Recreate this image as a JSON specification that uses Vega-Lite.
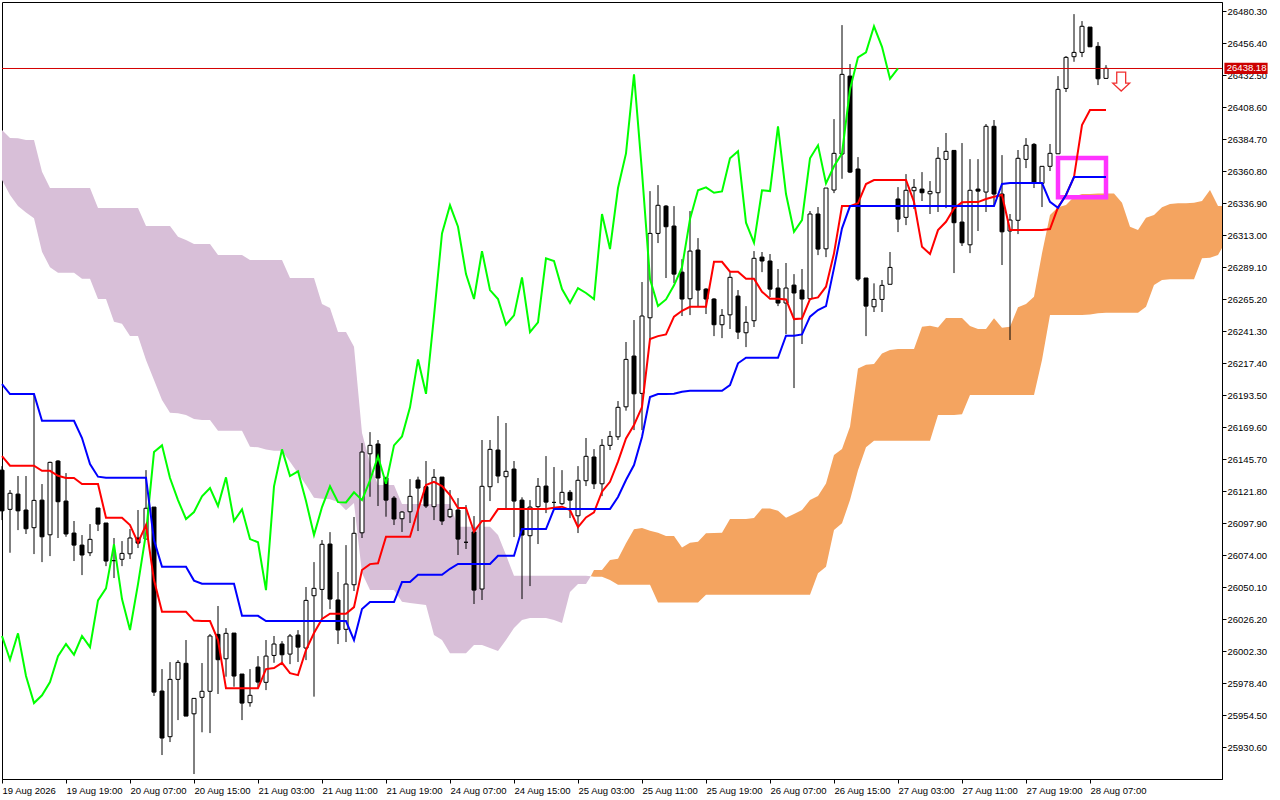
{
"$schema":"https://vega.github.io/schema/vega-lite/v6.json",
"width":1220,"height":777,
"autosize":"none",
"padding":{"left":2,"top":2,"right":58,"bottom":21},
"background":"#ffffff",
"config":{"view":{"stroke":"#000000","strokeWidth":1},"axis":{"grid":false,"domainColor":"#000000","tickColor":"#000000","labelColor":"#000000","labelFont":"Liberation Sans","labelFontSize":9.5,"tickSize":4,"labelOverlap":false,"labelFlush":false,"labelBound":false}},
"datasets":{
"candles":[
{"i":0,"o":26137.6,"h":26140.6,"l":26100.3,"c":26107.2,"tenkan":26148.1,"kijun":26201.9},
{"i":1,"o":26108.3,"h":26122.7,"l":26075.9,"c":26120.3,"tenkan":26140.9,"kijun":26194.4},
{"i":2,"o":26119.7,"h":26133.2,"l":26092.8,"c":26107.2,"tenkan":26140.9,"kijun":26194.4},
{"i":3,"o":26107.8,"h":26133.2,"l":26089.9,"c":26093.8,"tenkan":26140.9,"kijun":26194.4},
{"i":4,"o":26094.6,"h":26194.4,"l":26074.9,"c":26115.0,"tenkan":26140.9,"kijun":26194.4},
{"i":5,"o":26115.2,"h":26127.2,"l":26068.9,"c":26087.8,"tenkan":26137.1,"kijun":26174.5},
{"i":6,"o":26089.3,"h":26143.9,"l":26073.4,"c":26143.4,"tenkan":26137.1,"kijun":26174.5},
{"i":7,"o":26144.4,"h":26145.1,"l":26086.9,"c":26114.0,"tenkan":26133.4,"kijun":26174.5},
{"i":8,"o":26114.5,"h":26135.4,"l":26087.8,"c":26089.9,"tenkan":26131.7,"kijun":26174.5},
{"i":9,"o":26090.6,"h":26099.6,"l":26069.7,"c":26081.6,"tenkan":26131.7,"kijun":26174.5},
{"i":10,"o":26081.6,"h":26089.1,"l":26059.2,"c":26074.2,"tenkan":26127.2,"kijun":26161.6},
{"i":11,"o":26075.9,"h":26097.3,"l":26073.4,"c":26085.9,"tenkan":26127.2,"kijun":26142.1},
{"i":12,"o":26109.3,"h":26109.3,"l":26092.1,"c":26097.3,"tenkan":26127.2,"kijun":26132.7},
{"i":13,"o":26098.1,"h":26098.1,"l":26065.9,"c":26069.7,"tenkan":26102.0,"kijun":26131.9},
{"i":14,"o":26070.0,"h":26086.9,"l":26057.0,"c":26070.0,"tenkan":26102.0,"kijun":26131.9},
{"i":15,"o":26071.0,"h":26084.6,"l":26065.9,"c":26075.4,"tenkan":26102.0,"kijun":26131.9},
{"i":16,"o":26075.1,"h":26093.6,"l":26071.2,"c":26086.9,"tenkan":26096.6,"kijun":26131.9},
{"i":17,"o":26086.9,"h":26107.8,"l":26079.4,"c":26083.1,"tenkan":26083.4,"kijun":26131.9},
{"i":18,"o":26086.1,"h":26137.6,"l":26086.1,"c":26109.1,"tenkan":26096.6,"kijun":26131.9},
{"i":19,"o":26110.0,"h":26110.0,"l":25968.9,"c":25971.8,"tenkan":26055.5,"kijun":26085.4},
{"i":20,"o":25972.6,"h":25989.0,"l":25924.8,"c":25937.5,"tenkan":26031.8,"kijun":26065.4},
{"i":21,"o":25938.5,"h":25994.2,"l":25934.5,"c":25981.3,"tenkan":26031.8,"kijun":26065.4},
{"i":22,"o":25981.3,"h":25995.7,"l":25950.9,"c":25994.0,"tenkan":26031.8,"kijun":26065.4},
{"i":23,"o":25993.3,"h":26010.7,"l":25953.9,"c":25953.9,"tenkan":26031.8,"kijun":26065.4},
{"i":24,"o":25955.6,"h":25967.4,"l":25910.6,"c":25967.1,"tenkan":26025.2,"kijun":26055.1},
{"i":25,"o":25967.9,"h":25993.5,"l":25941.8,"c":25972.4,"tenkan":26024.9,"kijun":26052.7},
{"i":26,"o":25972.4,"h":26015.2,"l":25941.2,"c":26013.7,"tenkan":26024.9,"kijun":26052.7},
{"i":27,"o":26014.9,"h":26036.1,"l":25970.4,"c":25996.0,"tenkan":26010.7,"kijun":26052.7},
{"i":28,"o":25996.7,"h":26019.6,"l":25983.3,"c":26015.7,"tenkan":25974.6,"kijun":26052.7},
{"i":29,"o":26015.9,"h":26015.9,"l":25975.8,"c":25983.8,"tenkan":25974.6,"kijun":26052.7},
{"i":30,"o":25985.3,"h":25985.3,"l":25950.9,"c":25963.6,"tenkan":25974.6,"kijun":26028.8},
{"i":31,"o":25963.9,"h":25989.0,"l":25960.9,"c":25969.4,"tenkan":25974.6,"kijun":26028.8},
{"i":32,"o":25990.5,"h":25998.7,"l":25974.8,"c":25979.3,"tenkan":25974.6,"kijun":26028.8},
{"i":33,"o":25979.1,"h":26010.7,"l":25973.3,"c":25998.7,"tenkan":25989.0,"kijun":26024.9},
{"i":34,"o":25999.2,"h":26013.7,"l":25993.7,"c":26007.7,"tenkan":25989.8,"kijun":26024.9},
{"i":35,"o":26007.7,"h":26009.9,"l":25992.0,"c":25999.7,"tenkan":25993.7,"kijun":26024.9},
{"i":36,"o":26000.2,"h":26015.2,"l":25992.7,"c":26013.7,"tenkan":25986.0,"kijun":26024.9},
{"i":37,"o":26014.4,"h":26018.1,"l":25994.3,"c":26005.4,"tenkan":25984.5,"kijun":26024.9},
{"i":38,"o":26004.7,"h":26050.3,"l":25995.7,"c":26040.3,"tenkan":26003.2,"kijun":26024.9},
{"i":39,"o":26043.8,"h":26068.9,"l":25968.4,"c":26049.3,"tenkan":26015.9,"kijun":26024.9},
{"i":40,"o":26048.5,"h":26085.4,"l":26026.4,"c":26082.2,"tenkan":26026.4,"kijun":26024.9},
{"i":41,"o":26082.4,"h":26091.3,"l":26033.8,"c":26041.3,"tenkan":26030.3,"kijun":26024.9},
{"i":42,"o":26040.6,"h":26061.5,"l":26007.7,"c":26018.2,"tenkan":26030.3,"kijun":26024.9},
{"i":43,"o":26018.7,"h":26081.6,"l":26009.2,"c":26052.5,"tenkan":26030.3,"kijun":26024.9},
{"i":44,"o":26052.0,"h":26102.6,"l":26047.3,"c":26090.4,"tenkan":26035.3,"kijun":26010.7},
{"i":45,"o":26090.8,"h":26157.8,"l":26086.9,"c":26151.1,"tenkan":26063.0,"kijun":26033.8},
{"i":46,"o":26149.8,"h":26166.0,"l":26117.7,"c":26156.1,"tenkan":26067.4,"kijun":26039.1},
{"i":47,"o":26157.1,"h":26160.1,"l":26110.8,"c":26131.7,"tenkan":26068.0,"kijun":26039.1},
{"i":48,"o":26131.7,"h":26132.7,"l":26102.8,"c":26115.2,"tenkan":26087.8,"kijun":26039.1},
{"i":49,"o":26116.7,"h":26118.2,"l":26096.6,"c":26101.1,"tenkan":26087.8,"kijun":26039.1},
{"i":50,"o":26101.3,"h":26107.0,"l":26091.4,"c":26106.3,"tenkan":26087.8,"kijun":26054.0},
{"i":51,"o":26106.5,"h":26130.9,"l":26098.1,"c":26118.0,"tenkan":26087.8,"kijun":26054.0},
{"i":52,"o":26130.2,"h":26132.7,"l":26092.1,"c":26124.2,"tenkan":26107.8,"kijun":26059.5},
{"i":53,"o":26125.2,"h":26144.4,"l":26109.3,"c":26110.8,"tenkan":26126.5,"kijun":26059.5},
{"i":54,"o":26110.3,"h":26138.4,"l":26100.3,"c":26132.2,"tenkan":26128.9,"kijun":26059.5},
{"i":55,"o":26132.4,"h":26132.4,"l":26096.6,"c":26099.6,"tenkan":26125.7,"kijun":26059.5},
{"i":56,"o":26102.8,"h":26122.7,"l":26101.8,"c":26108.3,"tenkan":26119.0,"kijun":26063.9},
{"i":57,"o":26107.8,"h":26116.7,"l":26074.2,"c":26086.1,"tenkan":26109.3,"kijun":26067.5},
{"i":58,"o":26083.7,"h":26111.5,"l":26078.7,"c":26083.7,"tenkan":26109.3,"kijun":26067.5},
{"i":59,"o":26091.4,"h":26103.3,"l":26037.6,"c":26048.0,"tenkan":26091.6,"kijun":26067.5},
{"i":60,"o":26048.8,"h":26160.1,"l":26040.6,"c":26125.5,"tenkan":26099.6,"kijun":26067.5},
{"i":61,"o":26125.2,"h":26160.1,"l":26114.5,"c":26153.1,"tenkan":26099.8,"kijun":26067.5},
{"i":62,"o":26152.6,"h":26178.0,"l":26127.9,"c":26133.2,"tenkan":26108.5,"kijun":26073.6},
{"i":63,"o":26132.7,"h":26172.8,"l":26108.5,"c":26136.7,"tenkan":26108.5,"kijun":26073.6},
{"i":64,"o":26138.4,"h":26144.4,"l":26087.6,"c":26114.5,"tenkan":26108.5,"kijun":26073.6},
{"i":65,"o":26115.2,"h":26117.3,"l":26041.3,"c":26089.1,"tenkan":26108.5,"kijun":26093.6},
{"i":66,"o":26088.6,"h":26115.2,"l":26051.0,"c":26110.0,"tenkan":26108.5,"kijun":26093.6},
{"i":67,"o":26110.3,"h":26131.7,"l":26082.4,"c":26125.5,"tenkan":26108.5,"kijun":26093.6},
{"i":68,"o":26125.7,"h":26148.1,"l":26105.5,"c":26113.7,"tenkan":26108.5,"kijun":26093.6},
{"i":69,"o":26113.5,"h":26139.9,"l":26107.8,"c":26113.5,"tenkan":26109.5,"kijun":26108.5},
{"i":70,"o":26112.5,"h":26137.6,"l":26111.5,"c":26121.0,"tenkan":26110.3,"kijun":26108.5},
{"i":71,"o":26121.0,"h":26122.7,"l":26101.8,"c":26115.2,"tenkan":26107.8,"kijun":26108.5},
{"i":72,"o":26103.5,"h":26140.6,"l":26090.6,"c":26130.0,"tenkan":26095.1,"kijun":26108.5},
{"i":73,"o":26129.7,"h":26161.6,"l":26125.7,"c":26147.9,"tenkan":26102.3,"kijun":26108.5},
{"i":74,"o":26147.4,"h":26153.3,"l":26123.5,"c":26127.4,"tenkan":26106.1,"kijun":26108.5},
{"i":75,"o":26127.4,"h":26160.8,"l":26118.2,"c":26156.1,"tenkan":26121.5,"kijun":26108.5},
{"i":76,"o":26156.1,"h":26166.8,"l":26152.6,"c":26162.8,"tenkan":26128.9,"kijun":26108.5},
{"i":77,"o":26162.5,"h":26189.2,"l":26160.1,"c":26184.5,"tenkan":26143.9,"kijun":26117.5},
{"i":78,"o":26184.9,"h":26233.3,"l":26182.0,"c":26220.3,"tenkan":26161.3,"kijun":26130.2},
{"i":79,"o":26222.8,"h":26249.7,"l":26167.5,"c":26194.6,"tenkan":26171.3,"kijun":26141.4},
{"i":80,"o":26194.9,"h":26278.1,"l":26167.5,"c":26252.7,"tenkan":26184.7,"kijun":26162.3},
{"i":81,"o":26251.4,"h":26346.0,"l":26234.7,"c":26314.4,"tenkan":26235.5,"kijun":26192.2},
{"i":82,"o":26314.4,"h":26350.5,"l":26307.2,"c":26335.4,"tenkan":26237.7,"kijun":26194.4},
{"i":83,"o":26334.8,"h":26335.6,"l":26281.1,"c":26319.4,"tenkan":26239.0,"kijun":26194.4},
{"i":84,"o":26319.9,"h":26334.8,"l":26277.3,"c":26284.0,"tenkan":26252.2,"kijun":26194.6},
{"i":85,"o":26285.5,"h":26295.2,"l":26252.7,"c":26265.4,"tenkan":26256.6,"kijun":26196.1},
{"i":86,"o":26265.6,"h":26331.1,"l":26253.4,"c":26301.2,"tenkan":26259.6,"kijun":26196.9},
{"i":87,"o":26302.0,"h":26310.9,"l":26259.6,"c":26272.1,"tenkan":26259.6,"kijun":26196.9},
{"i":88,"o":26272.8,"h":26273.6,"l":26254.2,"c":26265.4,"tenkan":26259.6,"kijun":26196.9},
{"i":89,"o":26265.4,"h":26266.1,"l":26237.7,"c":26246.2,"tenkan":26293.2,"kijun":26196.9},
{"i":90,"o":26246.2,"h":26257.9,"l":26236.2,"c":26253.2,"tenkan":26293.2,"kijun":26196.9},
{"i":91,"o":26253.6,"h":26285.5,"l":26243.0,"c":26281.6,"tenkan":26285.8,"kijun":26201.1},
{"i":92,"o":26267.6,"h":26272.1,"l":26235.5,"c":26240.7,"tenkan":26285.8,"kijun":26217.4},
{"i":93,"o":26240.2,"h":26260.1,"l":26229.5,"c":26248.0,"tenkan":26280.5,"kijun":26221.5},
{"i":94,"o":26249.2,"h":26301.2,"l":26244.5,"c":26295.8,"tenkan":26280.5,"kijun":26221.5},
{"i":95,"o":26296.7,"h":26300.5,"l":26285.5,"c":26293.8,"tenkan":26270.8,"kijun":26221.5},
{"i":96,"o":26293.8,"h":26299.0,"l":26266.9,"c":26272.8,"tenkan":26265.6,"kijun":26221.5},
{"i":97,"o":26273.6,"h":26287.8,"l":26260.1,"c":26262.4,"tenkan":26265.6,"kijun":26221.5},
{"i":98,"o":26262.4,"h":26292.3,"l":26239.2,"c":26273.6,"tenkan":26265.1,"kijun":26238.0},
{"i":99,"o":26275.8,"h":26284.0,"l":26198.9,"c":26269.9,"tenkan":26250.4,"kijun":26238.0},
{"i":100,"o":26272.1,"h":26287.8,"l":26231.8,"c":26265.4,"tenkan":26250.9,"kijun":26239.0},
{"i":101,"o":26265.6,"h":26331.1,"l":26264.6,"c":26328.9,"tenkan":26265.4,"kijun":26252.2},
{"i":102,"o":26328.9,"h":26334.1,"l":26298.2,"c":26302.7,"tenkan":26266.6,"kijun":26257.2},
{"i":103,"o":26302.9,"h":26348.3,"l":26296.7,"c":26348.3,"tenkan":26274.6,"kijun":26260.1},
{"i":104,"o":26346.8,"h":26399.8,"l":26344.5,"c":26374.2,"tenkan":26299.5,"kijun":26288.5},
{"i":105,"o":26373.7,"h":26470.0,"l":26355.2,"c":26433.2,"tenkan":26334.8,"kijun":26318.2},
{"i":106,"o":26431.9,"h":26440.9,"l":26359.5,"c":26360.2,"tenkan":26334.8,"kijun":26334.8},
{"i":107,"o":26362.5,"h":26371.4,"l":26278.8,"c":26280.3,"tenkan":26336.9,"kijun":26334.8},
{"i":108,"o":26281.1,"h":26281.1,"l":26237.7,"c":26260.1,"tenkan":26351.3,"kijun":26334.8},
{"i":109,"o":26259.6,"h":26277.1,"l":26255.7,"c":26265.1,"tenkan":26354.3,"kijun":26334.8},
{"i":110,"o":26265.1,"h":26279.6,"l":26255.7,"c":26275.6,"tenkan":26354.3,"kijun":26334.8},
{"i":111,"o":26276.4,"h":26300.5,"l":26276.4,"c":26289.0,"tenkan":26354.3,"kijun":26334.8},
{"i":112,"o":26340.1,"h":26349.0,"l":26315.4,"c":26325.1,"tenkan":26354.3,"kijun":26334.8},
{"i":113,"o":26326.4,"h":26358.7,"l":26320.6,"c":26346.6,"tenkan":26354.3,"kijun":26334.8},
{"i":114,"o":26346.3,"h":26355.0,"l":26332.6,"c":26348.8,"tenkan":26338.0,"kijun":26334.8},
{"i":115,"o":26347.5,"h":26360.2,"l":26338.6,"c":26344.8,"tenkan":26304.4,"kijun":26334.8},
{"i":116,"o":26344.0,"h":26353.5,"l":26328.9,"c":26345.8,"tenkan":26299.0,"kijun":26334.8},
{"i":117,"o":26344.8,"h":26378.9,"l":26330.4,"c":26370.5,"tenkan":26316.9,"kijun":26334.8},
{"i":118,"o":26369.7,"h":26389.4,"l":26333.3,"c":26375.7,"tenkan":26323.1,"kijun":26334.8},
{"i":119,"o":26376.4,"h":26376.7,"l":26284.8,"c":26322.4,"tenkan":26333.1,"kijun":26334.8},
{"i":120,"o":26322.9,"h":26381.9,"l":26305.0,"c":26307.4,"tenkan":26337.6,"kijun":26334.8},
{"i":121,"o":26305.9,"h":26369.9,"l":26299.7,"c":26346.6,"tenkan":26337.8,"kijun":26334.8},
{"i":122,"o":26347.5,"h":26369.9,"l":26316.2,"c":26346.0,"tenkan":26337.8,"kijun":26334.8},
{"i":123,"o":26345.3,"h":26396.1,"l":26330.4,"c":26394.4,"tenkan":26340.1,"kijun":26334.8},
{"i":124,"o":26394.4,"h":26399.1,"l":26335.6,"c":26343.8,"tenkan":26341.8,"kijun":26334.8},
{"i":125,"o":26343.8,"h":26372.9,"l":26290.8,"c":26315.6,"tenkan":26343.1,"kijun":26351.3},
{"i":126,"o":26316.2,"h":26328.9,"l":26234.8,"c":26324.4,"tenkan":26316.9,"kijun":26352.0},
{"i":127,"o":26324.2,"h":26376.7,"l":26313.9,"c":26370.5,"tenkan":26316.9,"kijun":26352.0},
{"i":128,"o":26369.7,"h":26385.6,"l":26363.2,"c":26380.2,"tenkan":26316.9,"kijun":26352.0},
{"i":129,"o":26380.9,"h":26381.9,"l":26348.3,"c":26351.8,"tenkan":26316.9,"kijun":26352.0},
{"i":130,"o":26351.8,"h":26364.7,"l":26334.1,"c":26364.5,"tenkan":26316.9,"kijun":26352.0},
{"i":131,"o":26364.5,"h":26381.2,"l":26361.0,"c":26374.2,"tenkan":26317.7,"kijun":26338.0},
{"i":132,"o":26373.9,"h":26431.9,"l":26373.7,"c":26422.0,"tenkan":26333.9,"kijun":26333.6},
{"i":133,"o":26422.7,"h":26446.9,"l":26420.0,"c":26445.9,"tenkan":26343.1,"kijun":26343.1},
{"i":134,"o":26446.4,"h":26478.2,"l":26442.6,"c":26449.6,"tenkan":26356.5,"kijun":26356.5},
{"i":135,"o":26449.6,"h":26473.0,"l":26446.1,"c":26469.1,"tenkan":26395.3,"kijun":26356.5},
{"i":136,"o":26468.5,"h":26468.5,"l":26453.6,"c":26453.8,"tenkan":26406.5,"kijun":26356.5},
{"i":137,"o":26454.1,"h":26457.3,"l":26425.2,"c":26429.9,"tenkan":26406.5,"kijun":26356.5},
{"i":138,"o":26430.2,"h":26440.1,"l":26430.2,"c":26437.7,"tenkan":26406.5,"kijun":26356.5}
],
"chikou":[
{"i":0,"v":26013.7},{"i":1,"v":25996.0},{"i":2,"v":26015.7},{"i":3,"v":25983.8},{"i":4,"v":25963.6},{"i":5,"v":25969.4},{"i":6,"v":25979.3},{"i":7,"v":25998.7},{"i":8,"v":26007.7},{"i":9,"v":25999.7},
{"i":10,"v":26013.7},{"i":11,"v":26005.4},{"i":12,"v":26040.3},{"i":13,"v":26049.3},{"i":14,"v":26082.2},{"i":15,"v":26041.3},{"i":16,"v":26018.2},{"i":17,"v":26052.5},{"i":18,"v":26090.4},{"i":19,"v":26151.1},
{"i":20,"v":26156.1},{"i":21,"v":26131.7},{"i":22,"v":26115.2},{"i":23,"v":26101.1},{"i":24,"v":26106.3},{"i":25,"v":26118.0},{"i":26,"v":26124.2},{"i":27,"v":26110.8},{"i":28,"v":26132.2},{"i":29,"v":26099.6},
{"i":30,"v":26108.3},{"i":31,"v":26086.1},{"i":32,"v":26083.7},{"i":33,"v":26048.0},{"i":34,"v":26125.5},{"i":35,"v":26153.1},{"i":36,"v":26133.2},{"i":37,"v":26136.7},{"i":38,"v":26114.5},{"i":39,"v":26089.1},
{"i":40,"v":26110.0},{"i":41,"v":26125.5},{"i":42,"v":26113.7},{"i":43,"v":26113.5},{"i":44,"v":26121.0},{"i":45,"v":26115.2},{"i":46,"v":26130.0},{"i":47,"v":26147.9},{"i":48,"v":26127.4},{"i":49,"v":26156.1},
{"i":50,"v":26162.8},{"i":51,"v":26184.5},{"i":52,"v":26220.3},{"i":53,"v":26194.6},{"i":54,"v":26252.7},{"i":55,"v":26314.4},{"i":56,"v":26335.4},{"i":57,"v":26319.4},{"i":58,"v":26284.0},{"i":59,"v":26265.4},
{"i":60,"v":26301.2},{"i":61,"v":26272.1},{"i":62,"v":26265.4},{"i":63,"v":26246.2},{"i":64,"v":26253.2},{"i":65,"v":26281.6},{"i":66,"v":26240.7},{"i":67,"v":26248.0},{"i":68,"v":26295.8},{"i":69,"v":26293.8},
{"i":70,"v":26272.8},{"i":71,"v":26262.4},{"i":72,"v":26273.6},{"i":73,"v":26269.9},{"i":74,"v":26265.4},{"i":75,"v":26328.9},{"i":76,"v":26302.7},{"i":77,"v":26348.3},{"i":78,"v":26374.2},{"i":79,"v":26433.2},
{"i":80,"v":26360.2},{"i":81,"v":26280.3},{"i":82,"v":26260.1},{"i":83,"v":26265.1},{"i":84,"v":26275.6},{"i":85,"v":26289.0},{"i":86,"v":26325.1},{"i":87,"v":26346.6},{"i":88,"v":26348.8},{"i":89,"v":26344.8},
{"i":90,"v":26345.8},{"i":91,"v":26370.5},{"i":92,"v":26375.7},{"i":93,"v":26322.4},{"i":94,"v":26307.4},{"i":95,"v":26346.6},{"i":96,"v":26346.0},{"i":97,"v":26394.4},{"i":98,"v":26343.8},{"i":99,"v":26315.6},
{"i":100,"v":26324.4},{"i":101,"v":26370.5},{"i":102,"v":26380.2},{"i":103,"v":26351.8},{"i":104,"v":26364.5},{"i":105,"v":26374.2},{"i":106,"v":26422.0},{"i":107,"v":26445.9},{"i":108,"v":26449.6},{"i":109,"v":26469.1},
{"i":110,"v":26453.8},{"i":111,"v":26429.9},{"i":112,"v":26437.7}
],
"cloud_bear":[
{"i":0,"a":26354.3,"b":26391.6},{"i":1,"a":26343.1,"b":26385.6},{"i":2,"a":26334.8,"b":26385.4},{"i":3,"a":26330.1,"b":26384.1},{"i":4,"a":26325.7,"b":26384.1},{"i":5,"a":26300.7,"b":26360.5},{"i":6,"a":26289.1,"b":26348.3},{"i":7,"a":26285.0,"b":26348.3},{"i":8,"a":26285.0,"b":26348.3},{"i":9,"a":26285.0,"b":26348.3},
{"i":10,"a":26280.5,"b":26348.3},{"i":11,"a":26280.5,"b":26348.3},{"i":12,"a":26265.4,"b":26333.3},{"i":13,"a":26265.4,"b":26333.3},{"i":14,"a":26248.4,"b":26333.3},{"i":15,"a":26246.9,"b":26333.3},{"i":16,"a":26237.7,"b":26333.3},{"i":17,"a":26237.7,"b":26333.3},{"i":18,"a":26219.8,"b":26319.9},{"i":19,"a":26204.9,"b":26319.9},
{"i":20,"a":26189.9,"b":26319.9},{"i":21,"a":26180.5,"b":26319.9},{"i":22,"a":26180.0,"b":26311.9},{"i":23,"a":26178.7,"b":26309.4},{"i":24,"a":26175.7,"b":26306.5},{"i":25,"a":26175.0,"b":26306.5},{"i":26,"a":26175.0,"b":26306.5},{"i":27,"a":26167.0,"b":26298.2},{"i":28,"a":26167.0,"b":26298.2},{"i":29,"a":26167.0,"b":26298.2},
{"i":30,"a":26167.0,"b":26298.2},{"i":31,"a":26155.1,"b":26294.5},{"i":32,"a":26154.6,"b":26294.5},{"i":33,"a":26153.1,"b":26294.5},{"i":34,"a":26152.1,"b":26294.5},{"i":35,"a":26152.1,"b":26294.5},{"i":36,"a":26143.9,"b":26281.1},{"i":37,"a":26135.2,"b":26281.1},{"i":38,"a":26126.5,"b":26281.1},{"i":39,"a":26117.0,"b":26281.1},
{"i":40,"a":26116.2,"b":26261.6},{"i":41,"a":26115.8,"b":26258.7},{"i":42,"a":26113.8,"b":26240.7},{"i":43,"a":26107.6,"b":26240.7},{"i":44,"a":26113.0,"b":26229.7},{"i":45,"a":26060.7,"b":26165.3},{"i":46,"a":26048.0,"b":26142.9},{"i":47,"a":26048.0,"b":26126.5},{"i":48,"a":26048.0,"b":26126.5},{"i":49,"a":26048.0,"b":26126.5},
{"i":50,"a":26039.3,"b":26112.3},{"i":51,"a":26038.3,"b":26112.3},{"i":52,"a":26037.6,"b":26112.3},{"i":53,"a":26036.8,"b":26112.3},{"i":54,"a":26014.4,"b":26112.3},{"i":55,"a":26010.7,"b":26112.3},{"i":56,"a":26000.9,"b":26112.3},{"i":57,"a":26000.9,"b":26095.3},{"i":58,"a":26000.9,"b":26095.3},{"i":59,"a":26006.9,"b":26095.3},
{"i":60,"a":26006.9,"b":26095.3},{"i":61,"a":26004.7,"b":26095.3},{"i":62,"a":26002.5,"b":26089.1},{"i":63,"a":26010.7,"b":26074.2},{"i":64,"a":26019.6,"b":26058.7},{"i":65,"a":26025.6,"b":26058.7},{"i":66,"a":26027.1,"b":26058.7},{"i":67,"a":26027.1,"b":26058.7},{"i":68,"a":26027.1,"b":26058.7},{"i":69,"a":26025.6,"b":26058.7},
{"i":70,"a":26023.4,"b":26058.7},{"i":71,"a":26046.5,"b":26058.7},{"i":72,"a":26052.5,"b":26058.7},{"i":73,"a":26052.5,"b":26058.7},{"i":73.6,"a":26058.3,"b":26058.3}
],
"cloud_bull":[
{"i":73.6,"a":26058.3,"b":26058.3},{"i":74,"a":26063.0,"b":26057.9},{"i":75,"a":26063.0,"b":26057.9},{"i":76,"a":26070.4,"b":26055.5},{"i":77,"a":26071.4,"b":26052.0},{"i":78,"a":26082.9,"b":26052.0},{"i":79,"a":26093.4,"b":26052.0},
{"i":80,"a":26094.3,"b":26052.0},{"i":81,"a":26092.3,"b":26052.0},{"i":82,"a":26090.8,"b":26038.8},{"i":83,"a":26088.4,"b":26038.8},{"i":84,"a":26088.4,"b":26038.8},{"i":85,"a":26079.9,"b":26038.8},{"i":86,"a":26083.4,"b":26038.8},{"i":87,"a":26084.1,"b":26038.8},{"i":88,"a":26090.4,"b":26044.5},{"i":89,"a":26090.6,"b":26044.5},
{"i":90,"a":26090.8,"b":26044.5},{"i":91,"a":26101.1,"b":26044.5},{"i":92,"a":26101.1,"b":26044.5},{"i":93,"a":26101.1,"b":26044.5},{"i":94,"a":26101.8,"b":26044.5},{"i":95,"a":26109.0,"b":26044.5},{"i":96,"a":26109.0,"b":26044.5},{"i":97,"a":26107.3,"b":26044.5},{"i":98,"a":26102.0,"b":26044.5},{"i":99,"a":26104.8,"b":26044.5},
{"i":100,"a":26107.8,"b":26044.5},{"i":101,"a":26115.2,"b":26044.5},{"i":102,"a":26118.2,"b":26060.5},{"i":103,"a":26127.7,"b":26065.4},{"i":104,"a":26148.9,"b":26092.8},{"i":105,"a":26153.4,"b":26097.9},{"i":106,"a":26170.0,"b":26115.2},{"i":107,"a":26213.6,"b":26137.6},{"i":108,"a":26216.3,"b":26154.6},{"i":109,"a":26216.8,"b":26159.5},
{"i":110,"a":26224.8,"b":26159.5},{"i":111,"a":26227.3,"b":26159.5},{"i":112,"a":26228.0,"b":26159.5},{"i":113,"a":26228.0,"b":26159.5},{"i":114,"a":26228.0,"b":26159.5},{"i":115,"a":26244.7,"b":26159.5},{"i":116,"a":26245.4,"b":26159.5},{"i":117,"a":26244.2,"b":26178.7},{"i":118,"a":26251.2,"b":26178.7},{"i":119,"a":26251.2,"b":26178.7},
{"i":120,"a":26251.2,"b":26179.3},{"i":121,"a":26245.2,"b":26193.7},{"i":122,"a":26243.0,"b":26193.7},{"i":123,"a":26243.0,"b":26193.7},{"i":124,"a":26251.0,"b":26193.7},{"i":125,"a":26243.9,"b":26193.7},{"i":126,"a":26244.7,"b":26193.7},{"i":127,"a":26259.2,"b":26193.7},{"i":128,"a":26261.6,"b":26193.7},{"i":129,"a":26267.1,"b":26193.7},
{"i":130,"a":26299.5,"b":26219.8},{"i":131,"a":26328.1,"b":26253.4},{"i":132,"a":26333.9,"b":26253.4},{"i":133,"a":26335.6,"b":26253.4},{"i":134,"a":26341.8,"b":26253.4},{"i":135,"a":26343.8,"b":26253.4},{"i":136,"a":26343.8,"b":26253.9},{"i":137,"a":26344.3,"b":26254.7},{"i":138,"a":26344.3,"b":26255.1},{"i":139,"a":26344.3,"b":26255.1},
{"i":140,"a":26337.3,"b":26255.1},{"i":141,"a":26319.4,"b":26255.1},{"i":142,"a":26316.9,"b":26255.1},{"i":143,"a":26326.1,"b":26259.6},{"i":144,"a":26328.1,"b":26275.8},{"i":145,"a":26333.9,"b":26279.6},{"i":146,"a":26336.3,"b":26280.1},{"i":147,"a":26336.9,"b":26280.1},{"i":148,"a":26336.9,"b":26280.1},{"i":149,"a":26337.3,"b":26280.1},
{"i":150,"a":26338.6,"b":26295.8},{"i":151,"a":26346.8,"b":26296.2},{"i":152,"a":26334.8,"b":26298.2},{"i":152.5,"a":26334.8,"b":26303.5}
],
"last_price":[{"price":26438.18,"start":0,"end":152.5,"from":152.8,"to":158.2,"lo":26433.4,"hi":26441.9,"at":153.1}],
"setup_box":[{"i0":132,"i1":138,"lo":26341.4,"hi":26370.7}],
"sell_signal":[{"i":139.9,"price":26427.8}]
},
"encoding":{"x":{"field":"i","type":"quantitative","title":null,"scale":{"domain":[0,152.5],"nice":false,"zero":false,"padding":0},
"axis":{"values":[0,8,16,24,32,40,48,56,64,72,80,88,96,104,112,120,128,136],"tickCount":40,"labelAlign":"left","labelPadding":2,
"labelExpr":"['19 Aug 2026','19 Aug 19:00','20 Aug 07:00','20 Aug 15:00','21 Aug 03:00','21 Aug 11:00','21 Aug 19:00','24 Aug 07:00','24 Aug 15:00','25 Aug 03:00','25 Aug 11:00','25 Aug 19:00','26 Aug 07:00','26 Aug 15:00','27 Aug 03:00','27 Aug 11:00','27 Aug 19:00','28 Aug 07:00'][datum.value/8]"}}},
"layer":[
{"data":{"name":"cloud_bear"},"mark":{"type":"area","color":"#D8BFD8","opacity":1,"clip":true},
"encoding":{"y":{"field":"a","type":"quantitative","title":null,"scale":{"domain":[25906.9,26487.25],"nice":false,"zero":false},
"axis":{"orient":"right","values":[26480.3,26456.4,26432.5,26408.6,26384.7,26360.8,26336.9,26313.0,26289.1,26265.2,26241.3,26217.4,26193.5,26169.6,26145.7,26121.8,26097.9,26074.0,26050.1,26026.2,26002.3,25978.4,25954.5,25930.6],"tickCount":40,"format":".2f","labelPadding":1}},
"y2":{"field":"b"}}},
{"data":{"name":"cloud_bull"},"mark":{"type":"area","color":"#F4A460","opacity":1,"clip":true},
"encoding":{"y":{"field":"a","type":"quantitative","title":null,"scale":{"domain":[25906.9,26487.25],"nice":false,"zero":false}},"y2":{"field":"b"}}},
{"data":{"name":"candles"},"mark":{"type":"rule","color":"#000000","strokeWidth":1},
"encoding":{"y":{"field":"l","type":"quantitative","title":null,"scale":{"domain":[25906.9,26487.25],"nice":false,"zero":false}},"y2":{"field":"h"}}},
{"data":{"name":"candles"},"mark":{"type":"bar","size":4,"stroke":"#000000","strokeWidth":1},
"encoding":{"y":{"field":"o","type":"quantitative","title":null,"scale":{"domain":[25906.9,26487.25],"nice":false,"zero":false}},"y2":{"field":"c"},
"fill":{"condition":{"test":"datum.c>=datum.o","value":"#ffffff"},"value":"#000000"}}},
{"data":{"name":"last_price"},"mark":{"type":"rule","color":"#D40000","strokeWidth":1,"yOffset":0.8},
"encoding":{"x":{"field":"start","type":"quantitative","title":null,"scale":{"domain":[0,152.5],"nice":false,"zero":false,"padding":0}},"x2":{"field":"end"},"y":{"field":"price","type":"quantitative","title":null,"scale":{"domain":[25906.9,26487.25],"nice":false,"zero":false}}}},
{"data":{"name":"setup_box"},"mark":{"type":"rect","fill":null,"stroke":"#FF33FF","strokeWidth":4.5},
"encoding":{"x":{"field":"i0","type":"quantitative","title":null,"scale":{"domain":[0,152.5],"nice":false,"zero":false,"padding":0}},"x2":{"field":"i1"},"y":{"field":"lo","type":"quantitative","title":null,"scale":{"domain":[25906.9,26487.25],"nice":false,"zero":false}},"y2":{"field":"hi"}}},
{"data":{"name":"chikou"},"mark":{"type":"line","color":"#00FF00","strokeWidth":2},
"encoding":{"y":{"field":"v","type":"quantitative","title":null,"scale":{"domain":[25906.9,26487.25],"nice":false,"zero":false}}}},
{"data":{"name":"candles"},"mark":{"type":"line","color":"#FF0000","strokeWidth":2},
"encoding":{"y":{"field":"tenkan","type":"quantitative","title":null,"scale":{"domain":[25906.9,26487.25],"nice":false,"zero":false}}}},
{"data":{"name":"candles"},"mark":{"type":"line","color":"#0000FF","strokeWidth":2},
"encoding":{"y":{"field":"kijun","type":"quantitative","title":null,"scale":{"domain":[25906.9,26487.25],"nice":false,"zero":false}}}},
{"data":{"name":"sell_signal"},"mark":{"type":"point","filled":true,"fill":"#ffffff","stroke":"#F03030","strokeWidth":1.3,"opacity":1,"size":361,"shape":"M-0.47,-1 L0.47,-1 L0.47,0.16 L0.89,0.16 L0,1 L-0.89,0.16 L-0.47,0.16 Z"},
"encoding":{"y":{"field":"price","type":"quantitative","title":null,"scale":{"domain":[25906.9,26487.25],"nice":false,"zero":false}}}},
{"data":{"name":"last_price"},"mark":{"type":"rect","color":"#CC0000"},
"encoding":{"x":{"field":"from","type":"quantitative","title":null,"scale":{"domain":[0,152.5],"nice":false,"zero":false,"padding":0}},"x2":{"field":"to"},"y":{"field":"lo","type":"quantitative","title":null,"scale":{"domain":[25906.9,26487.25],"nice":false,"zero":false}},"y2":{"field":"hi"}}},
{"data":{"name":"last_price"},"mark":{"type":"text","color":"#ffffff","align":"left","baseline":"middle","font":"Liberation Sans","fontSize":9.5},
"encoding":{"x":{"field":"at","type":"quantitative","title":null,"scale":{"domain":[0,152.5],"nice":false,"zero":false,"padding":0}},"y":{"field":"price","type":"quantitative","title":null,"scale":{"domain":[25906.9,26487.25],"nice":false,"zero":false}},"text":{"field":"price","type":"quantitative","format":".2f"}}}
]
}
